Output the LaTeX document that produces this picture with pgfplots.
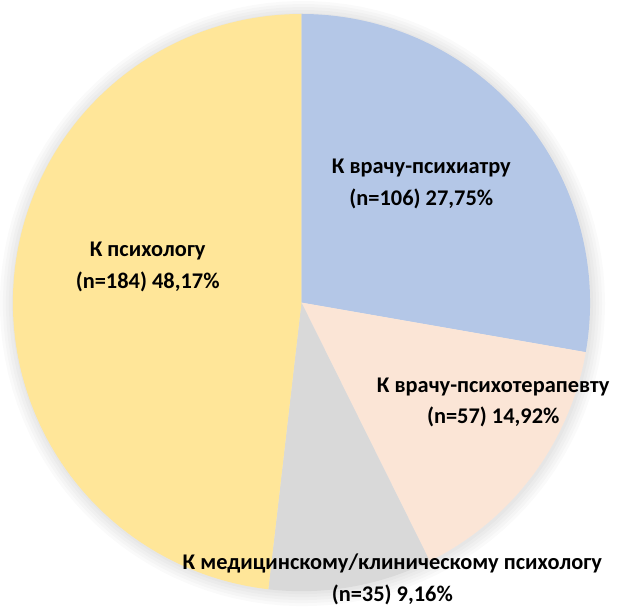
\documentclass[border=0pt]{standalone}
\usepackage{fontspec}
\setmainfont{Carlito}
\usepackage{pgfplots}
\usepackage{pgfplotstable}
\pgfplotsset{compat=1.18}
\definecolor{cA}{HTML}{B4C7E7}
\definecolor{cB}{HTML}{FBE5D6}
\definecolor{cC}{HTML}{D9D9D9}
\definecolor{cD}{HTML}{FFE699}
\tikzset{lbl/.style={font=\bfseries\fontsize{22.5}{32}\selectfont, text=black, align=center, inner sep=0pt}}
\pgfplotstableread{
n
106
57
35
184
}\piedata
\begin{document}
\begin{tikzpicture}
\pgfplotstablegetelem{0}{n}\of\piedata \let\nA\pgfplotsretval
\pgfplotstablegetelem{1}{n}\of\piedata \let\nB\pgfplotsretval
\pgfplotstablegetelem{2}{n}\of\piedata \let\nC\pgfplotsretval
\pgfplotstablegetelem{3}{n}\of\piedata \let\nD\pgfplotsretval
\pgfmathsetmacro\tot{\nA+\nB+\nC+\nD}
\pgfmathsetmacro\aA{90}
\pgfmathsetmacro\aB{\aA-360*(\nA/\tot)}
\pgfmathsetmacro\aC{\aB-360*(\nB/\tot)}
\pgfmathsetmacro\aD{\aC-360*(\nC/\tot)}
\pgfmathsetmacro\aE{\aD-360*(\nD/\tot)}
\begin{axis}[
  hide axis, scale only axis, clip=false,
  width=633bp, height=606bp,
  xmin=0, xmax=633, ymin=0, ymax=606,
]
\path (axis cs:0,0) rectangle (axis cs:633,606);
\pgfplotsinvokeforeach{14,11,8,5,2}{
\addplot[draw=none, fill=black, fill opacity=0.02, domain=0:360, samples=120] ({302+(289+#1)*cos(x)},{302+(289+#1)*sin(x)}) -- cycle;
}
\addplot[draw=none, fill=cA, domain=\aB:\aA, samples=80] ({301+289*cos(x)},{303+289*sin(x)}) -- (axis cs:301,303) -- cycle;
\addplot[draw=none, fill=cB, domain=\aC:\aB, samples=80] ({301+289*cos(x)},{303+289*sin(x)}) -- (axis cs:301,303) -- cycle;
\addplot[draw=none, fill=cC, domain=\aD:\aC, samples=80] ({301+289*cos(x)},{303+289*sin(x)}) -- (axis cs:301,303) -- cycle;
\addplot[draw=none, fill=cD, domain=\aE:\aD, samples=120] ({301+289*cos(x)},{303+289*sin(x)}) -- (axis cs:301,303) -- cycle;
\node[lbl] at (axis cs:421,422) {К врачу-психиатру\\(n=106) 27,75\%};
\node[lbl] at (axis cs:147,339) {К психологу\\(n=184) 48,17\%};
\node[lbl] at (axis cs:493,203) {К врачу-психотерапевту\\(n=57) 14,92\%};
\node[lbl] at (axis cs:392,26) {К медицинскому/клиническому психологу\\(n=35) 9,16\%};
\end{axis}
\end{tikzpicture}
\end{document}
